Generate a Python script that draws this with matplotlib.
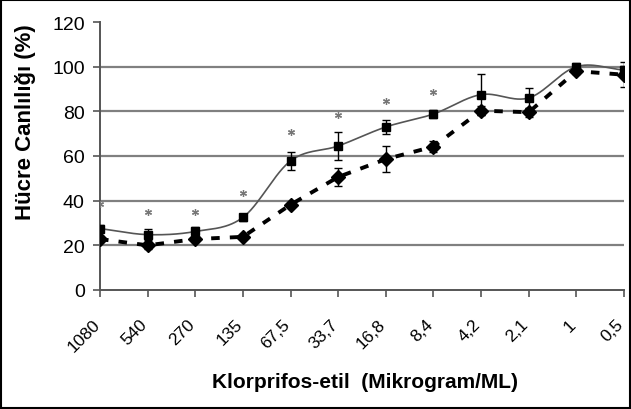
import numpy as np
import matplotlib
matplotlib.use("Agg")
import matplotlib.pyplot as plt
from matplotlib.patches import Rectangle
from matplotlib.transforms import ScaledTranslation

categories = ["1080", "540", "270", "135", "67,5", "33,7", "16,8", "8,4", "4,2", "2,1", "1", "0,5"]
square_vals = [27.5, 24.8, 26.2, 32.5, 57.8, 64.5, 73.0, 78.8, 87.5, 86.0, 100.0, 98.5]
square_err = [1.5, 2.5, 2.0, 1.5, 4.0, 6.4, 3.0, 2.0, 9.0, 4.5, 1.5, 2.0]
diamond_vals = [22.8, 20.0, 22.8, 23.8, 38.2, 50.6, 58.6, 64.2, 80.3, 79.6, 98.0, 96.4]
diamond_err = [1.5, 1.5, 1.5, 1.0, 1.0, 4.0, 5.7, 2.5, 2.0, 2.0, 1.5, 5.5]
star_cats = [0, 1, 2, 3, 4, 5, 6, 7]
star_vals = [38.5, 35.0, 35.0, 43.3, 70.7, 78.4, 84.8, 88.7]
yticks = [0, 20, 40, 60, 80, 100, 120]

plt.rcParams['font.family'] = ['Liberation Sans', 'DejaVu Sans']

fig = plt.figure(figsize=(6.31, 4.10), dpi=100)
ax = fig.add_axes([100/631, 1-291/410, 524/631, 268/410])

x = np.arange(len(categories))

def catmull_rom(xs, ys, n=30):
    xs = np.asarray(xs, float); ys = np.asarray(ys, float)
    px = np.concatenate([[2*xs[0]-xs[1]], xs, [2*xs[-1]-xs[-2]]])
    py = np.concatenate([[2*ys[0]-ys[1]], ys, [2*ys[-1]-ys[-2]]])
    ox, oy = [], []
    for i in range(1, len(px)-2):
        t = np.linspace(0, 1, n, endpoint=False)
        for arr, out in ((px, ox), (py, oy)):
            p0, p1, p2, p3 = arr[i-1], arr[i], arr[i+1], arr[i+2]
            out.extend(0.5*((2*p1) + (-p0+p2)*t + (2*p0-5*p1+4*p2-p3)*t**2 + (-p0+3*p1-3*p2+p3)*t**3))
    ox.append(xs[-1]); oy.append(ys[-1])
    return np.array(ox), np.array(oy)

for yv in yticks[1:-1]:
    ax.axhline(yv, color='#808080', lw=1.6, zorder=1)

sx, sy = catmull_rom(x, square_vals)
ax.plot(sx, sy, color='#555555', lw=1.2, zorder=3)
ax.errorbar(x, square_vals, yerr=square_err, fmt='s', color='black', ms=6,
            ecolor='black', elinewidth=1, capsize=3, capthick=1, zorder=4)

ax.plot(x, diamond_vals, color='black', lw=2.8, dashes=(2.2, 2.6), zorder=3)
ax.errorbar(x, diamond_vals, yerr=diamond_err, fmt='D', color='black', ms=7,
            ecolor='black', elinewidth=1, capsize=3, capthick=1, zorder=5)

ax.plot(star_cats, star_vals, linestyle='none', marker=(6, 2, 0), color='#777777', ms=5, mew=0.9, zorder=4)

ax.set_xlim(0, len(categories)-1)
ax.set_ylim(0, 120)
ax.set_yticks(yticks)
ax.set_xticks(x)
ax.set_xticklabels(categories, rotation=45, ha='right', rotation_mode='anchor', fontsize=12.5)
ax.tick_params(axis='y', labelsize=14, length=5, width=1.2, color='#555555', pad=6)
ax.tick_params(axis='x', length=5, width=1.2, color='#555555', pad=14)
off = ScaledTranslation(-8/100, 0, fig.dpi_scale_trans)
for lab in ax.get_xticklabels():
    lab.set_transform(lab.get_transform() + off)
for s in ['top', 'right']:
    ax.spines[s].set_visible(False)
for s in ['left', 'bottom']:
    ax.spines[s].set_color('#555555')
    ax.spines[s].set_linewidth(1.4)

fig.text(26/631, 1-122/410, "Hücre Canlılığı (%)", rotation=90, ha='center', va='center',
         fontsize=16, fontweight='bold')
fig.text(365/631, 1-383/410, "Klorprifos-etil  (Mikrogram/ML)", ha='center', va='center',
         fontsize=15, fontweight='bold')

fig.patches.append(Rectangle((0.002, 0.003), 0.996, 0.994, transform=fig.transFigure,
                             fill=False, edgecolor='black', lw=1.5))

fig.savefig("out.png", dpi=100)
